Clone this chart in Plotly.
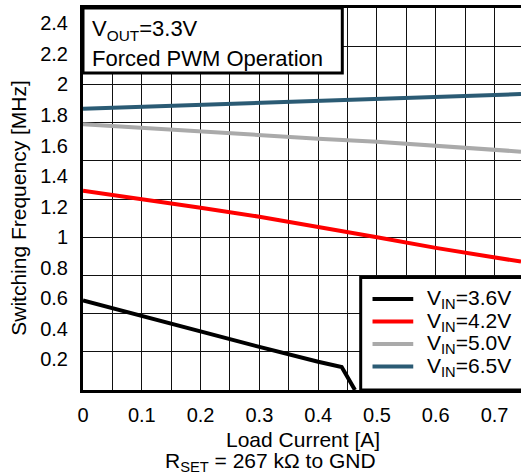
import plotly.graph_objects as go

# ---------------- data ----------------
load_current = [0.0, 0.1, 0.2, 0.3, 0.4, 0.5, 0.6, 0.7, 0.745]

vin36_x = [0.0, 0.05, 0.1, 0.2, 0.3, 0.4, 0.44, 0.4626]
vin36_y = [0.586, 0.535, 0.485, 0.385, 0.282, 0.185, 0.15, 0.0]
vin42_y = [1.304, 1.25, 1.193, 1.134, 1.07, 1.0, 0.93, 0.87, 0.84]
vin50_y = [1.74, 1.715, 1.69, 1.668, 1.645, 1.625, 1.6, 1.575, 1.56]
vin65_y = [1.84, 1.853, 1.865, 1.877, 1.89, 1.905, 1.918, 1.93, 1.937]

series_names = ["V<sub>IN</sub>=3.6V", "V<sub>IN</sub>=4.2V",
                "V<sub>IN</sub>=5.0V", "V<sub>IN</sub>=6.5V"]
series_colors = ["#000000", "#FF0000", "#AAAAAA", "#2B5B74"]

x_tick_vals = [0, 0.1, 0.2, 0.3, 0.4, 0.5, 0.6, 0.7]
x_tick_text = ["0", "0.1", "0.2", "0.3", "0.4", "0.5", "0.6", "0.7"]
y_tick_vals = [0.2, 0.4, 0.6, 0.8, 1.0, 1.2, 1.4, 1.6, 1.8, 2.0, 2.2, 2.4]
y_tick_text = ["0.2", "0.4", "0.6", "0.8", "1", "1.2", "1.4", "1.6",
               "1.8", "2", "2.2", "2.4"]

x_range = [0, 0.745]
y_range = [0, 2.5]

FONT = "Liberation Sans, Arial, Helvetica, sans-serif"

fig = go.Figure()

series = [
    (vin36_x, vin36_y),
    (load_current, vin42_y),
    (load_current, vin50_y),
    (load_current, vin65_y),
]
# the last series is placed on the (identically scaled) grid axes so that
# the grid subplot is created; all others on the labelled axes
axes_for = [("x", "y"), ("x", "y"), ("x", "y"), ("x2", "y2")]
for (xs, ys), name, color, (xa, ya) in zip(series, series_names,
                                           series_colors, axes_for):
    fig.add_trace(go.Scatter(x=xs, y=ys, mode="lines", name=name,
                             line=dict(color=color, width=4),
                             xaxis=xa, yaxis=ya, showlegend=False))

fig.update_layout(
    width=521, height=476,
    margin=dict(l=83, r=0, t=8, b=86),
    paper_bgcolor="white", plot_bgcolor="white",
    font=dict(family=FONT, color="black", size=20),
    showlegend=False,
    # axes carrying the tick labels
    xaxis=dict(range=x_range, tickmode="array", tickvals=x_tick_vals,
               ticktext=x_tick_text, showgrid=False, zeroline=False,
               ticks="", showline=True, linecolor="black", linewidth=3,
               mirror=True, tickfont=dict(size=20), ticklabelstandoff=5),
    yaxis=dict(range=y_range, tickmode="array", tickvals=y_tick_vals,
               ticktext=y_tick_text, showgrid=False, zeroline=False,
               ticks="", showline=True, linecolor="black", linewidth=3,
               tickfont=dict(size=20), ticklabelstandoff=8),
    # overlay axes that draw the grid
    xaxis2=dict(range=x_range, overlaying="x", anchor="y2", side="bottom",
                tick0=0, dtick=0.05, showgrid=True, gridcolor="#111111",
                gridwidth=1, showticklabels=False, ticks="", zeroline=False,
                showline=False),
    yaxis2=dict(range=y_range, overlaying="y", anchor="x2", side="left",
                tick0=0, dtick=0.25, showgrid=True, gridcolor="#111111",
                gridwidth=1, showticklabels=False, ticks="", zeroline=False,
                showline=False),
)

# condition box (top-left)
fig.add_shape(type="rect", xref="paper", yref="paper",
              x0=0, x1=0.592, y0=0.83, y1=1.0,
              fillcolor="white", line=dict(color="black", width=3),
              layer="above")
fig.add_annotation(xref="paper", yref="paper", x=0.016, y=(390 - 30) / 382,
                   xanchor="left", yanchor="middle", showarrow=False,
                   text="V<sub>OUT</sub>=3.3V", font=dict(size=22))
fig.add_annotation(xref="paper", yref="paper", x=0.016, y=(390 - 59) / 382,
                   xanchor="left", yanchor="middle", showarrow=False,
                   text="Forced PWM Operation", font=dict(size=22))

# legend box (bottom-right)
fig.add_shape(type="rect", xref="paper", yref="paper",
              x0=0.634, x1=1.05, y0=0, y1=0.2945,
              fillcolor="white", line=dict(color="black", width=3),
              layer="above")
row_top = 299
row_step = 22.5
for i, (name, color) in enumerate(zip(series_names, series_colors)):
    yc = (390 - (row_top + i * row_step)) / 382
    fig.add_shape(type="line", xref="paper", yref="paper",
                  x0=0.661, x1=0.754, y0=yc, y1=yc,
                  line=dict(color=color, width=4), layer="above")
    fig.add_annotation(xref="paper", yref="paper", x=0.78, y=yc,
                       xanchor="left", yanchor="middle", showarrow=False,
                       text=name, font=dict(size=21))

# axis titles and footnote
fig.add_annotation(xref="paper", yref="paper", x=-0.147, y=0.476,
                   xanchor="center", yanchor="middle", showarrow=False,
                   textangle=-90, text="Switching Frequency [MHz]",
                   font=dict(size=21))
fig.add_annotation(xref="paper", yref="paper", x=0.503, y=(390 - 439) / 382,
                   xanchor="center", yanchor="middle", showarrow=False,
                   text="Load Current [A]", font=dict(size=21))
fig.add_annotation(xref="paper", yref="paper", x=0.427, y=(390 - 462) / 382,
                   xanchor="center", yanchor="middle", showarrow=False,
                   text="R<sub>SET</sub> = 267 k\u03a9 to GND",
                   font=dict(size=21))

fig.write_html("out.html",
               config={"displayModeBar": False},
               post_script="document.body.style.margin='0';"
                           "document.body.style.padding='0';")
